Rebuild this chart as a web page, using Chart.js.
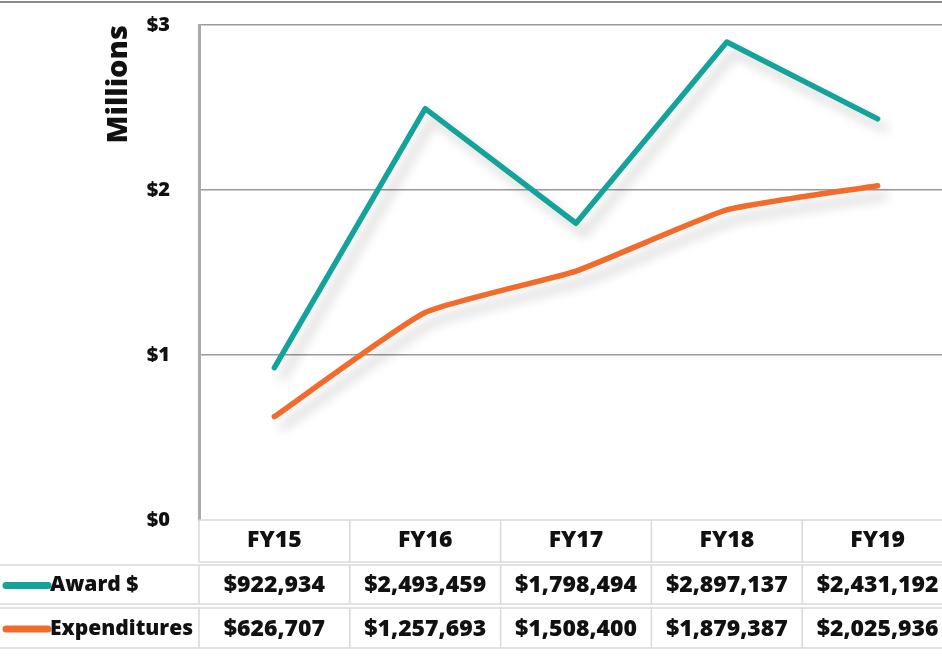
<!DOCTYPE html>
<html>
<head>
<meta charset="utf-8">
<script src="https://cdn.jsdelivr.net/npm/chart.js@4.4.1/dist/chart.umd.min.js"></script>
<style>
  html, body { margin: 0; padding: 0; background: #fff; overflow: hidden; }
  #wrap { width: 954px; height: 656px; }
</style>
</head>
<body>
<div id="wrap"><canvas id="chart" width="954" height="656"></canvas></div>
<script>
const categories = ["FY15", "FY16", "FY17", "FY18", "FY19"];
const award = [922934, 2493459, 1798494, 2897137, 2431192];
const expenditures = [626707, 1257693, 1508400, 1879387, 2025936];
const seriesNames = ["Award $", "Expenditures"];
const yTickValues = [0, 1000000, 2000000, 3000000];

const TEAL = "#14a39b";
const ORANGE = "#f26b2b";
const FONT = "'Open Sans', 'Noto Sans', sans-serif";

function money(v) {
    return "$" + String(v).replace(/\B(?=(\d{3})+(?!\d))/g, ",");
}

// soft drop shadow under the lines
const lineShadow = {
    id: "lineShadow",
    beforeDatasetDraw(chart) {
        const ctx = chart.ctx;
        ctx.save();
        ctx.shadowColor = "rgba(0,0,0,0.2)";
        ctx.shadowBlur = 12;
        ctx.shadowOffsetX = 8;
        ctx.shadowOffsetY = 10;
    },
    afterDatasetDraw(chart) {
        chart.ctx.restore();
    }
};

// frame line at the top and the data table under the plot
const dataTable = {
    id: "dataTable",
    beforeDraw(chart) {
        const ctx = chart.ctx;
        ctx.save();
        ctx.strokeStyle = "#8a8a8a";
        ctx.lineWidth = 2;
        ctx.beginPath();
        ctx.moveTo(0, 2);
        ctx.lineTo(chart.width, 2);
        ctx.stroke();
        ctx.restore();
    },
    afterDraw(chart) {
        const ctx = chart.ctx;
        const x = chart.scales.x;
        const area = chart.chartArea;
        const colW = x.getPixelForValue(1) - x.getPixelForValue(0);
        const rows = [
            { top: area.bottom, bottom: area.bottom + 42 },
            { top: area.bottom + 45, bottom: area.bottom + 84 },
            { top: area.bottom + 88, bottom: area.bottom + 128 }
        ];
        const values = [award, expenditures];

        ctx.save();
        ctx.strokeStyle = "#d9d9d9";
        ctx.lineWidth = 1.5;
        rows.forEach((r, ri) => {
            const left = ri === 0 ? area.left : 0;
            ctx.beginPath();
            ctx.moveTo(left, r.top);
            ctx.lineTo(chart.width, r.top);
            ctx.moveTo(left, r.bottom);
            ctx.lineTo(chart.width, r.bottom);
            ctx.stroke();
            for (let i = 0; i <= categories.length; i++) {
                const cx = x.getPixelForValue(0) - colW / 2 + i * colW;
                ctx.beginPath();
                ctx.moveTo(cx, r.top);
                ctx.lineTo(cx, r.bottom);
                ctx.stroke();
            }
        });

        ctx.fillStyle = "#111";
        ctx.textBaseline = "middle";
        for (let ri = 0; ri < 2; ri++) {
            const r = rows[ri + 1];
            const cy = (r.top + r.bottom) / 2 + 1;
            ctx.font = "800 23px " + FONT;
            ctx.textAlign = "center";
            values[ri].forEach((v, i) => {
                ctx.fillText(money(v), x.getPixelForValue(i), cy);
            });
            // legend key + series name
            ctx.save();
            ctx.strokeStyle = chart.data.datasets[ri].borderColor;
            ctx.lineWidth = 7;
            ctx.lineCap = "round";
            ctx.beginPath();
            ctx.moveTo(6, cy);
            ctx.lineTo(48, cy);
            ctx.stroke();
            ctx.restore();
            ctx.font = "800 21px " + FONT;
            ctx.textAlign = "left";
            ctx.fillText(seriesNames[ri], 50, cy);
        }
        ctx.restore();
    }
};

new Chart("chart", {
    type: "line",
    data: {
        labels: categories,
        datasets: [{
            label: seriesNames[0],
            data: award,
            borderColor: TEAL,
            borderWidth: 5.5,
            pointRadius: 0,
            borderCapStyle: "round",
            borderJoinStyle: "round",
            tension: 0
        }, {
            label: seriesNames[1],
            data: expenditures,
            borderColor: ORANGE,
            borderWidth: 5.5,
            pointRadius: 0,
            borderCapStyle: "round",
            borderJoinStyle: "round",
            tension: 0.15
        }]
    },
    options: {
        responsive: false,
        animation: false,
        layout: { padding: { top: 25, bottom: 6, left: 0, right: 1 } },
        plugins: {
            legend: { display: false },
            tooltip: { enabled: false }
        },
        scales: {
            x: {
                offset: true,
                grid: { display: false, drawTicks: false },
                border: { display: false },
                ticks: {
                    padding: 7,
                    color: "#111",
                    font: { family: FONT, size: 23, weight: "800" }
                },
                afterFit(scale) { scale.height = 130; }
            },
            y: {
                min: 0,
                max: 3000000,
                afterBuildTicks(scale) {
                    scale.ticks = yTickValues.map(v => ({ value: v }));
                },
                grid: {
                    drawTicks: false,
                    color: ctx => ctx.tick && ctx.tick.value === 0 ? "rgba(0,0,0,0)" : "#9a9a9a",
                    lineWidth: 1.5
                },
                border: { color: "#aaaaaa", width: 3 },
                ticks: {
                    padding: 29,
                    color: "#111",
                    font: { family: FONT, size: 20, weight: "800" },
                    callback: v => "$" + v / 1000000
                },
                title: {
                    display: true,
                    text: "Millions",
                    align: "end",
                    color: "#111",
                    padding: { top: 101, bottom: 0 },
                    font: { family: FONT, size: 29, weight: "800" }
                },
                afterFit(scale) {
                    scale.width = 199;
                    scale.paddingTop = 0;
                    scale.paddingBottom = 0;
                }
            }
        }
    },
    plugins: [lineShadow, dataTable]
});
</script>
</body>
</html>
